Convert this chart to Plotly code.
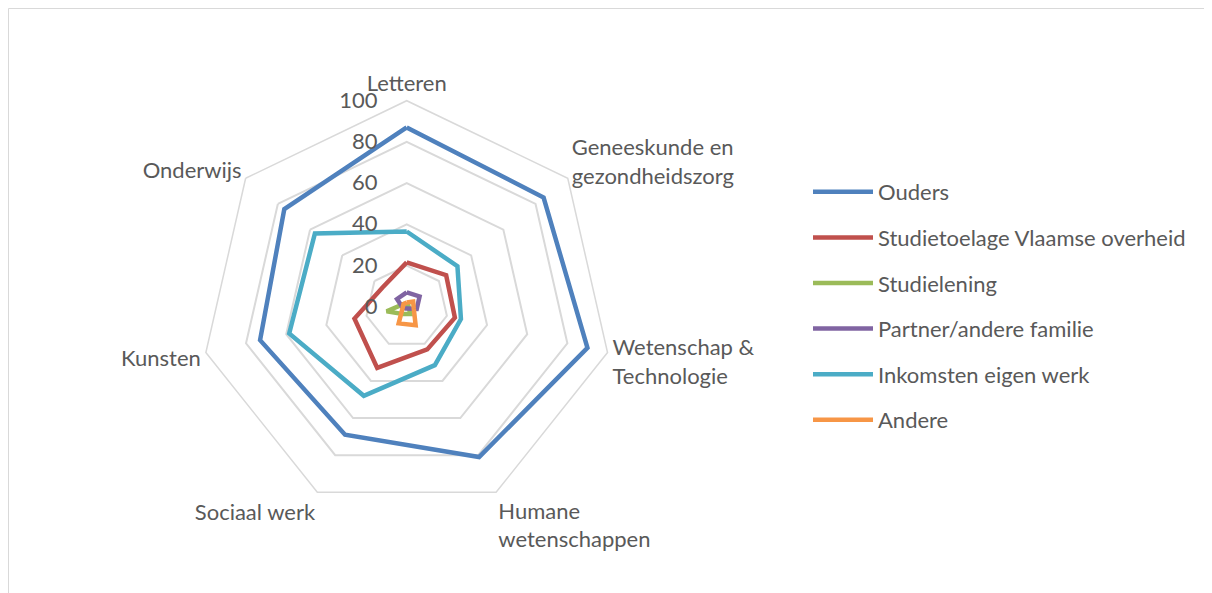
import plotly.graph_objects as go

categories = ["Letteren", "Geneeskunde en<br>gezondheidszorg", "Wetenschap &<br>Technologie",
              "Humane<br>wetenschappen", "Sociaal werk", "Kunsten", "Onderwijs"]

series_names = ["Ouders", "Studietoelage Vlaamse overheid", "Studielening",
                "Partner/andere familie", "Inkomsten eigen werk", "Andere"]

ouders = [87, 85, 90, 81, 69, 73, 76]
studietoelage = [21.5, 24.5, 24, 23, 33, 26, 15]
studielening = [1, 1, 1, 4, 4, 10, 2]
partner = [7, 8, 5, 1, 1, 2, 6]
inkomsten = [36.5, 31.5, 27, 31.5, 48, 58.5, 57]
andere = [2, 4, 3.5, 10, 9, 2, 2]

radial_ticks = [0, 20, 40, 60, 80, 100]

colors = ["#4F81BD", "#C0504D", "#9BBB59", "#8064A2", "#4BACC6", "#F79646"]
values = [ouders, studietoelage, studielening, partner, inkomsten, andere]

# page body has an 8px margin; figure fills the rest of the window
W, H = 1204, 585
FONT = "Lato"
FS = 22
TXT = "#595959"

fig = go.Figure()
for name, vals, col in zip(series_names, values, colors):
    fig.add_trace(go.Scatterpolar(
        r=vals + vals[:1],
        theta=categories + categories[:1],
        mode="lines",
        name=name,
        legendgroup=name,
        line=dict(color=col, width=4.5),
        hoverinfo="skip",
    ))

cx, cy, R = 398.7, 298.7, 206
fig.update_layout(
    width=W, height=H,
    margin=dict(l=0, r=0, t=0, b=0),
    paper_bgcolor="white",
    plot_bgcolor="white",
    font=dict(family=FONT, size=FS, color=TXT),
    polar=dict(
        domain=dict(x=[(cx - R) / W, (cx + R) / W], y=[(H - cy - R) / H, (H - cy + R) / H]),
        gridshape="linear",
        bgcolor="white",
        radialaxis=dict(
            range=[0, 100], tickvals=radial_ticks, angle=90, tickangle=90,
            side="counterclockwise",
            showline=False, gridcolor="#D9D9D9", gridwidth=1.5,
            ticks="outside", ticklen=21, tickcolor="rgba(0,0,0,0)",
            tickfont=dict(family=FONT, size=FS, color=TXT),
        ),
        angularaxis=dict(
            direction="clockwise", rotation=90,
            showgrid=False, showline=True, linecolor="#D9D9D9", linewidth=1.5,
            ticks="", tickfont=dict(family=FONT, size=FS, color=TXT),
        ),
    ),
    legend=dict(
        x=800 / W, y=(H - 163) / H, xanchor="left", yanchor="top",
        tracegroupgap=14, itemwidth=60,
        font=dict(family=FONT, size=FS, color=TXT),
        bgcolor="rgba(0,0,0,0)",
    ),
    showlegend=True,
    shapes=[dict(type="rect", xref="paper", yref="paper",
                 x0=0.5 / W, x1=1.2, y0=-0.2, y1=(H - 0.5) / H,
                 line=dict(color="#D9D9D9", width=1), layer="below")],
)

fig.write_html("out.html")
